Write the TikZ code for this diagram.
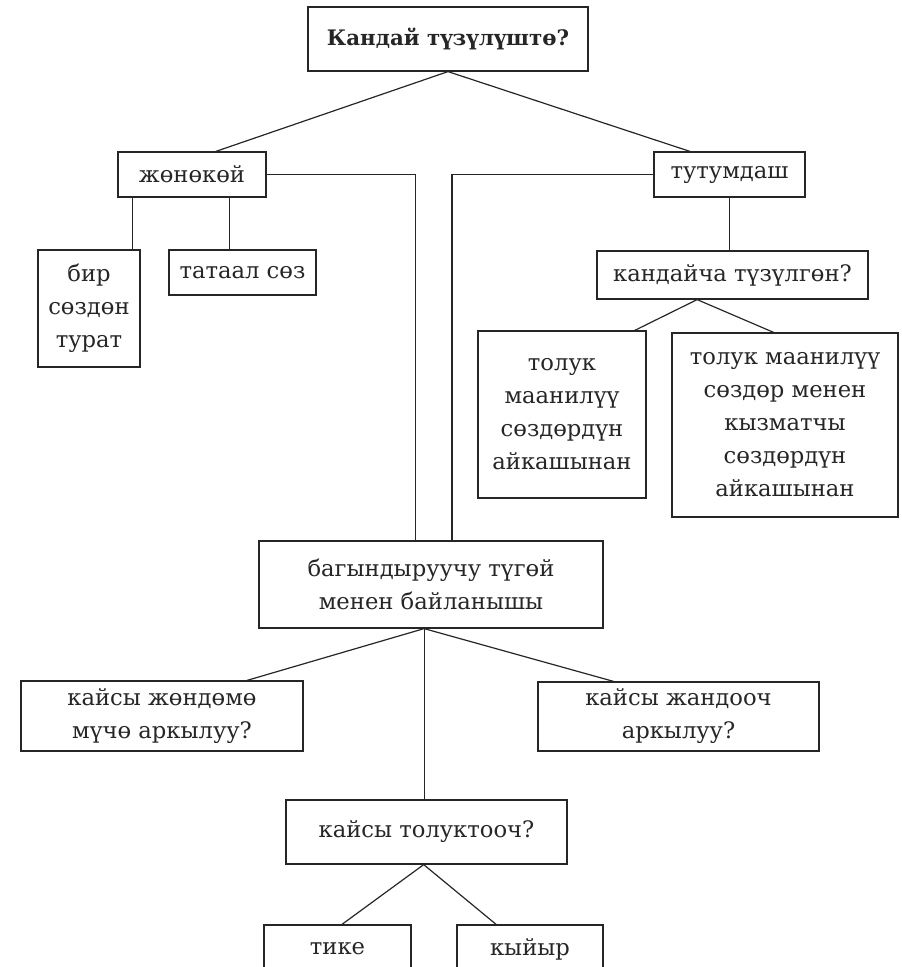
\documentclass[tikz,border=0pt]{standalone}
\usepackage{fontspec}
\setmainfont{DejaVu Serif}
\usetikzlibrary{calc}
\newcommand\boxfont{\fontsize{17}{24.75}\selectfont}
\tikzset{
  box/.style={draw, inner sep=0pt, align=center, font=\boxfont},
  boxwh/.style 2 args={minimum width=#1*0.75pt, minimum height=#2*0.75pt},
}
\begin{document}
\begin{tikzpicture}[x=0.75pt, y=-0.75pt, line width=0.9pt, color=black!85]
        \useasboundingbox (0,0) rectangle (902,967);
        % boxes
        \node[box, boxwh={280}{64}, font=\fontsize{16}{24.75}\selectfont\bfseries] (kandai) at (448,39) {Кандай түзүлүштө?};
        \node[box, boxwh={148}{45}] (jonokoy) at (192,174.5) {жөнөкөй};
        \node[box, boxwh={151}{45}] (tutum) at (729.5,174.5) {тутумдаш};
        \node[box, boxwh={102}{117}] (bir) at (89,308.5) {бир\\сөздөн\\турат};
        \node[box, boxwh={147}{45}] (tataal) at (242.5,272.5) {татаал сөз};
        \node[box, boxwh={271}{48}] (kandaicha) at (732.5,275) {кандайча түзүлгөн?};
        \node[box, boxwh={168}{167}] (tolukA) at (562,414.5) {толук\\маанилүү\\сөздөрдүн\\айкашынан};
        \node[box, boxwh={226}{184}] (tolukB) at (785,425) {толук маанилүү\\сөздөр менен\\кызматчы\\сөздөрдүн\\айкашынан};
        \node[box, boxwh={344}{87}] (bagyn) at (431,584.5) {багындыруучу түгөй\\менен байланышы};
        \node[box, boxwh={282}{70}] (jondomo) at (162,716) {кайсы жөндөмө\\мүчө аркылуу?};
        \node[box, boxwh={281}{69}] (jandooch) at (678.5,716.5) {кайсы жандооч\\аркылуу?};
        \node[box, boxwh={281}{64}] (tolukt) at (426.5,832) {кайсы толуктооч?};
        \node[box, boxwh={147}{48}] (tike) at (337.5,949) {тике};
        \node[box, boxwh={146}{48}] (kyiyr) at (530,949) {кыйыр};
        % connectors
        \draw (kandai.south) -- ($(jonokoy.north west)!.66!(jonokoy.north east)$);
        \draw (kandai.south) -- ($(tutum.north west)!.24!(tutum.north east)$);
        \coordinate (j1) at ($(jonokoy.south west)!.1!(jonokoy.south east)$);
        \coordinate (j2) at ($(jonokoy.south west)!.75!(jonokoy.south east)$);
        \draw (j1) -- (j1 |- bir.north);
        \draw (j2) -- (j2 |- tataal.north);
        \draw (jonokoy.east) -| ($(bagyn.north west)!.456!(bagyn.north east)$);
        \draw (tutum.west) -| ($(bagyn.north west)!.561!(bagyn.north east)$);
        \draw (tutum.south) -- (tutum.south |- kandaicha.north);
        \coordinate (k1) at ($(kandaicha.south west)!.37!(kandaicha.south east)$);
        \draw ($(tolukA.north west)!.93!(tolukA.north east)$) -- (k1) -- ($(tolukB.north west)!.45!(tolukB.north east)$);
        \coordinate (b1) at ($(bagyn.south west)!.48!(bagyn.south east)$);
        \draw ($(jondomo.north west)!.8!(jondomo.north east)$) -- (b1) -- ($(jandooch.north west)!.27!(jandooch.north east)$);
        \draw (b1) -- (b1 |- tolukt.north);
        \coordinate (t1) at ($(tolukt.south west)!.49!(tolukt.south east)$);
        \draw ($(tike.north west)!.53!(tike.north east)$) -- (t1) -- ($(kyiyr.north west)!.27!(kyiyr.north east)$);
\end{tikzpicture}
\end{document}
